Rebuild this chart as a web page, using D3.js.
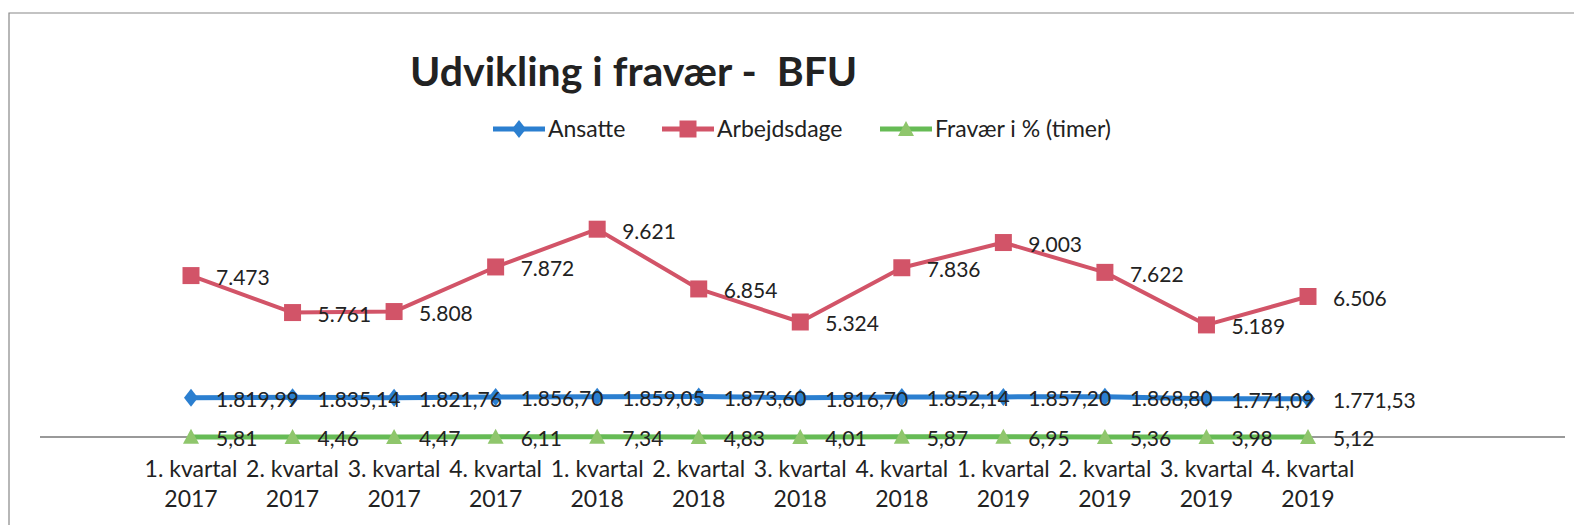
<!DOCTYPE html>
<html>
<head>
<meta charset="utf-8">
<title>Udvikling i fravær - BFU</title>
<script src="https://cdn.jsdelivr.net/npm/d3@7"></script>
<style>
  body { margin: 0; background: #fff; }
  text { font-family: Lato, "Open Sans", sans-serif; fill: #222; }
</style>
</head>
<body>
<div id="chart"></div>
<script>
// data
var quarters = ["1. kvartal", "2. kvartal", "3. kvartal", "4. kvartal",
                "1. kvartal", "2. kvartal", "3. kvartal", "4. kvartal",
                "1. kvartal", "2. kvartal", "3. kvartal", "4. kvartal"];
var years = ["2017", "2017", "2017", "2017", "2018", "2018", "2018", "2018", "2019", "2019", "2019", "2019"];
var ansatte = [1819.99, 1835.14, 1821.76, 1856.70, 1859.05, 1873.60, 1816.70, 1852.14, 1857.20, 1868.80, 1771.09, 1771.53];
var arbejdsdage = [7473, 5761, 5808, 7872, 9621, 6854, 5324, 7836, 9003, 7622, 5189, 6506];
var fravaer = [5.81, 4.46, 4.47, 6.11, 7.34, 4.83, 4.01, 5.87, 6.95, 5.36, 3.98, 5.12];
var seriesNames = ["Ansatte", "Arbejdsdage", "Fravær i % (timer)"];

var W = 1574, H = 525;

var da = d3.formatLocale({ decimal: ",", thousands: ".", grouping: [3], currency: ["", " kr"] });
var fmt2 = da.format(",.2f"), fmt0 = da.format(",.0f");

var series = [
  { name: seriesNames[0], values: ansatte, color: "#2b7fd0", lw: 5, marker: "diamond", fmt: fmt2 },
  { name: seriesNames[1], values: arbejdsdage, color: "#d25468", lw: 4, marker: "square", fmt: fmt0 },
  { name: seriesNames[2], values: fravaer, color: "#66bb55", lw: 5, marker: "triangle", fmt: fmt2, fill: "#8fc66c" }
];

var svg = d3.select("#chart").append("svg")
    .attr("width", W).attr("height", H);

// frame of the scanned chart
svg.append("path")
    .attr("d", "M9,525V13H1574")
    .attr("fill", "none").attr("stroke", "#888").attr("stroke-width", 1.2);

var x = d3.scalePoint().domain(d3.range(quarters.length)).range([191, 1308]);
var y = d3.scaleLinear().domain([0, 10000]).range([437, 221]);

// category axis line
svg.append("line")
    .attr("x1", 40).attr("x2", 1565).attr("y1", y(0)).attr("y2", y(0))
    .attr("stroke", "#777").attr("stroke-width", 1.3);

var catLabels = svg.append("g").selectAll("text")
    .data(quarters).enter().append("text")
    .attr("text-anchor", "middle")
    .style("font-size", "23px");
catLabels.append("tspan").attr("x", function(d, i) { return x(i); }).attr("y", 477).text(function(d) { return d; });
catLabels.append("tspan").attr("x", function(d, i) { return x(i); }).attr("y", 507).text(function(d, i) { return years[i]; });

function markerPath(type) {
  if (type == "diamond") return "M0,-9L7,0L0,9L-7,0Z";
  if (type == "square") return "M-8.5,-8.5H8.5V8.5H-8.5Z";
  return "M0,-8L8,7H-8Z";
}

var line = d3.line()
    .x(function(d, i) { return x(i); })
    .y(function(d) { return y(d); });

series.forEach(function(s) {
  var g = svg.append("g");
  g.append("path")
      .attr("d", line(s.values))
      .attr("fill", "none")
      .attr("stroke", s.color)
      .attr("stroke-width", s.lw)
      .attr("stroke-linejoin", "round");
  g.selectAll(".mk").data(s.values).enter().append("path")
      .attr("class", "mk")
      .attr("d", markerPath(s.marker))
      .attr("transform", function(d, i) { return "translate(" + x(i) + "," + y(d) + ")"; })
      .attr("fill", s.fill || s.color);
  g.selectAll(".lbl").data(s.values).enter().append("text")
      .attr("class", "lbl")
      .attr("x", function(d, i) { return x(i) + 25; })
      .attr("y", function(d) { return y(d) + 2; })
      .attr("dy", "0.35em")
      .style("font-size", "21px")
      .text(function(d) { return s.fmt(d); });
});

// title
svg.append("text")
    .attr("x", 410).attr("y", 86)
    .style("font-size", "41px").style("font-weight", "bold")
    .attr("xml:space", "preserve")
    .text("Udvikling i fravær -  BFU");

// legend
var legX = [493, 662, 880];
var leg = svg.append("g").selectAll("g").data(series).enter().append("g")
    .attr("transform", function(d, i) { return "translate(" + legX[i] + ",129)"; });
leg.append("line").attr("x1", 0).attr("x2", 52)
    .attr("stroke", function(d) { return d.color; }).attr("stroke-width", 5);
leg.append("path")
    .attr("d", function(d) { return markerPath(d.marker); })
    .attr("transform", "translate(26,0)")
    .attr("fill", function(d) { return d.fill || d.color; });
leg.append("text").attr("x", 55).attr("dy", "0.35em")
    .style("font-size", "23px")
    .text(function(d) { return d.name; });
</script>
</body>
</html>
